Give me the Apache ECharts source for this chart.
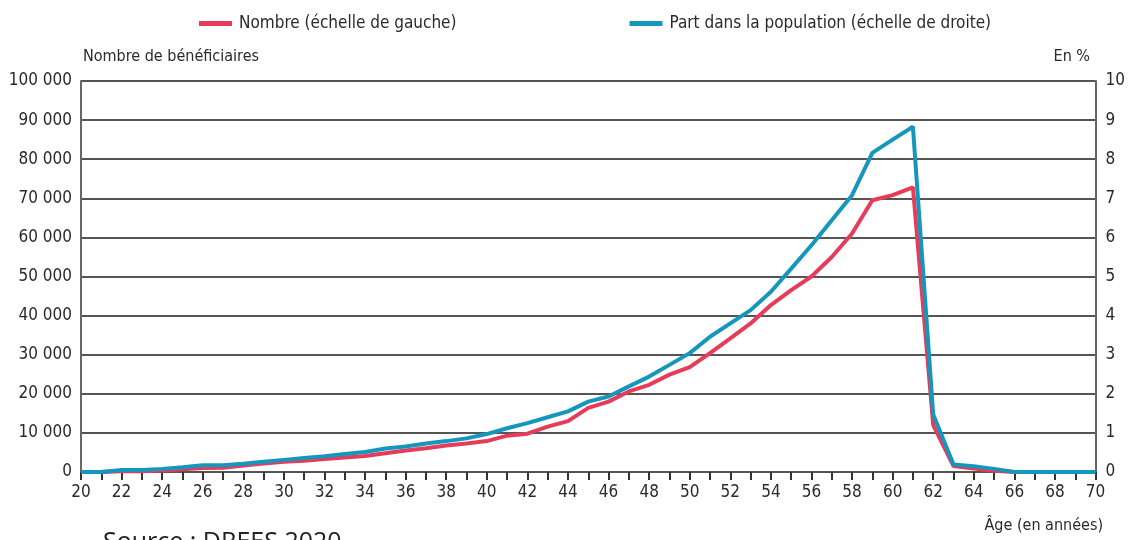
<!DOCTYPE html>
<html>
<head>
<meta charset="utf-8">
<script src="https://cdn.jsdelivr.net/npm/echarts@6/dist/echarts.min.js"></script>
<style>
  html, body { margin: 0; padding: 0; background: #fff; }
  #chart { width: 1128px; height: 540px; }
</style>
</head>
<body>
<div id="chart"></div>
<script>
// Âges (axe horizontal)
const ages = [];
for (let a = 20; a <= 70; a++) ages.push(String(a));

// Nombre de bénéficiaires (échelle de gauche)
const nombre = [
  0, 0, 200, 200, 400, 700, 1000, 1100, 1650, 2150, 2650,
  2900, 3300, 3700, 4100, 4800, 5500, 6100, 6800, 7300, 7900,
  9300, 9800, 11600, 13000, 16400, 18000, 20600, 22300, 24900, 26800,
  30400, 34200, 38000, 42700, 46500, 50000, 55000, 61000, 69500, 70800,
  72800, 12000, 1500, 900, 300, 0, 0, 0, 0, 0
];

// Part dans la population en % (échelle de droite)
const part = [
  0, 0, 0.05, 0.05, 0.08, 0.12, 0.17, 0.17, 0.21, 0.26, 0.31,
  0.36, 0.40, 0.46, 0.51, 0.60, 0.65, 0.73, 0.79, 0.86, 0.97,
  1.12, 1.25, 1.40, 1.55, 1.80, 1.93, 2.19, 2.44, 2.74, 3.04,
  3.46, 3.80, 4.14, 4.61, 5.20, 5.80, 6.44, 7.08, 8.16, 8.50,
  8.83, 1.47, 0.19, 0.15, 0.08, 0, 0, 0, 0, 0
];

const condensed = "'Liberation Sans Narrow', 'DejaVu Sans Condensed', sans-serif";
const txt = '#2a2a2a';

let myChart = echarts.init(document.getElementById('chart'));

let option = {
  animation: false,
  color: ['#e63c59', '#1597bd'],
  grid: { left: 81, right: 29, top: 81, bottom: 68 },
  legend: {
    left: 194, top: 10,
    itemWidth: 33, itemHeight: 5, itemGap: 173,
    icon: 'rect',
    textStyle: { fontFamily: condensed, fontSize: 17, color: txt, padding: [0, 0, 0, 2] },
    data: ['Nombre (échelle de gauche)', 'Part dans la population (échelle de droite)']
  },
  xAxis: {
    type: 'category', data: ages, boundaryGap: false,
    axisLine: { lineStyle: { color: '#555', width: 2 } },
    axisTick: { interval: 0, length: 8, lineStyle: { color: '#333', width: 2 } },
    axisLabel: { interval: 1, fontFamily: condensed, fontSize: 17, color: txt, margin: 12 }
  },
  yAxis: [{
    type: 'value', min: 0, max: 100000, interval: 10000,
    axisLine: { show: true, lineStyle: { color: '#666', width: 2 } },
    axisTick: { show: false },
    splitLine: { lineStyle: { color: '#555', width: 2 } },
    axisLabel: {
      fontFamily: condensed, fontSize: 17, color: txt, margin: 9,
      formatter: v => String(v).replace(/\B(?=(\d{3})+(?!\d))/g, ' ')
    }
  }, {
    type: 'value', min: 0, max: 10, interval: 1, position: 'right',
    axisLine: { show: true, lineStyle: { color: '#666', width: 2 } },
    axisTick: { show: false },
    splitLine: { show: false },
    axisLabel: { fontFamily: condensed, fontSize: 17, color: txt, margin: 10 }
  }],
  graphic: [
    { type: 'text', left: 83, top: 49, style: { text: 'Nombre de bénéficiaires', font: '16px ' + condensed, fill: txt } },
    { type: 'text', right: 38, top: 49, style: { text: 'En %', font: '16px ' + condensed, fill: txt } },
    { type: 'text', right: 25, top: 518, style: { text: 'Âge (en années)', font: '16px ' + condensed, fill: txt } },
    { type: 'text', left: 103, top: 530, style: { text: 'Source : DREES 2020', font: '25px "Open Sans", sans-serif', fill: '#222' } }
  ],
  series: [{
    name: 'Nombre (échelle de gauche)', type: 'line', yAxisIndex: 0,
    data: nombre, symbol: 'none', lineStyle: { width: 4 }
  }, {
    name: 'Part dans la population (échelle de droite)', type: 'line', yAxisIndex: 1,
    data: part, symbol: 'none', lineStyle: { width: 4 }
  }]
};
myChart.setOption(option);
</script>
</body>
</html>
